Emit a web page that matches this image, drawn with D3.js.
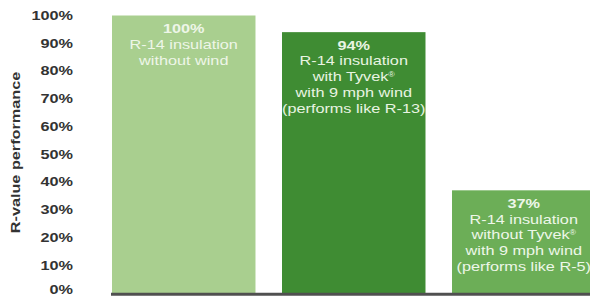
<!DOCTYPE html>
<html>
<head>
<meta charset="utf-8">
<script src="https://cdn.jsdelivr.net/npm/d3@7"></script>
<style>
  html, body { margin: 0; padding: 0; background: #ffffff; }
  svg { display: block; }
  text { font-family: "Liberation Sans", Arial, Helvetica, sans-serif; }
</style>
</head>
<body>
<svg id="chart" width="590" height="298"></svg>
<script>
// ---- data ----
const categories = ["without wind", "with Tyvek", "without Tyvek"];
const values = [100, 94, 37];
const barLabels = [
  ["100%", "R-14 insulation", "without wind"],
  ["94%", "R-14 insulation", "with Tyvek\u00AE", "with 9 mph wind", "(performs like R-13)"],
  ["37%", "R-14 insulation", "without Tyvek\u00AE", "with 9 mph wind", "(performs like R-5)"]
];
const barColors = ["#a9cf8f", "#3f8c33", "#6cae57"];
const labelColors = ["#eef6e8", "#e9f4e2", "#eef7e9"];
const tickValues = [0, 10, 20, 30, 40, 50, 60, 70, 80, 90, 100];
const axisTitle = "R-value performance";

// ---- layout ----
const W = 590, H = 298;
const svg = d3.select("#chart");
const SX = 1.25; // wide letterforms

const x = d3.scaleBand().domain(categories).range([112, 595.5]).paddingInner(0.156).paddingOuter(0).align(0);
const y = d3.scaleLinear().domain([0, 100]).range([293, 15.5]);

// bars
svg.append("g").selectAll("rect").data(values).join("rect")
  .attr("x", (d, i) => x(categories[i]))
  .attr("y", d => y(d))
  .attr("width", x.bandwidth())
  .attr("height", d => y(0) - y(d))
  .attr("fill", (d, i) => barColors[i]);

// bar labels
const lineH = 15.8;
barLabels.forEach((lines, i) => {
  const cx = x(categories[i]) + x.bandwidth() / 2;
  const top = y(values[i]);
  lines.forEach((t, j) => {
    const txt = svg.append("text")
      .attr("transform", `translate(${cx},${top + 17.5 + j * lineH}) scale(${SX},1)`)
      .attr("text-anchor", "middle")
      .attr("font-size", 13)
      .attr("font-weight", j === 0 ? "bold" : "normal")
      .attr("fill", labelColors[i]);
    const parts = t.split("\u00AE");
    txt.append("tspan").text(parts[0]);
    if (parts.length > 1) {
      txt.append("tspan").attr("font-size", 7).attr("dy", -4).text("\u00AE");
      if (parts[1]) txt.append("tspan").attr("dy", 4).text(parts[1]);
    }
  });
});

// baseline
svg.append("line")
  .attr("x1", 111).attr("x2", W)
  .attr("y1", y(0) + 1.2).attr("y2", y(0) + 1.2)
  .attr("stroke", "#505050").attr("stroke-width", 3);

// y tick labels
svg.append("g").selectAll("text").data(tickValues).join("text")
  .attr("transform", d => `translate(73,${Math.min(y(d), 290)}) scale(${SX},1)`)
  .attr("text-anchor", "end")
  .attr("dominant-baseline", "central")
  .attr("font-size", 13)
  .attr("font-weight", "bold")
  .attr("fill", "#333333")
  .text(d => d + "%");

// y axis title
svg.append("text")
  .attr("transform", `translate(20,152.5) rotate(-90) scale(${SX},1)`)
  .attr("text-anchor", "middle")
  .attr("font-size", 13)
  .attr("font-weight", "bold")
  .attr("fill", "#333333")
  .text(axisTitle);
</script>
</body>
</html>
